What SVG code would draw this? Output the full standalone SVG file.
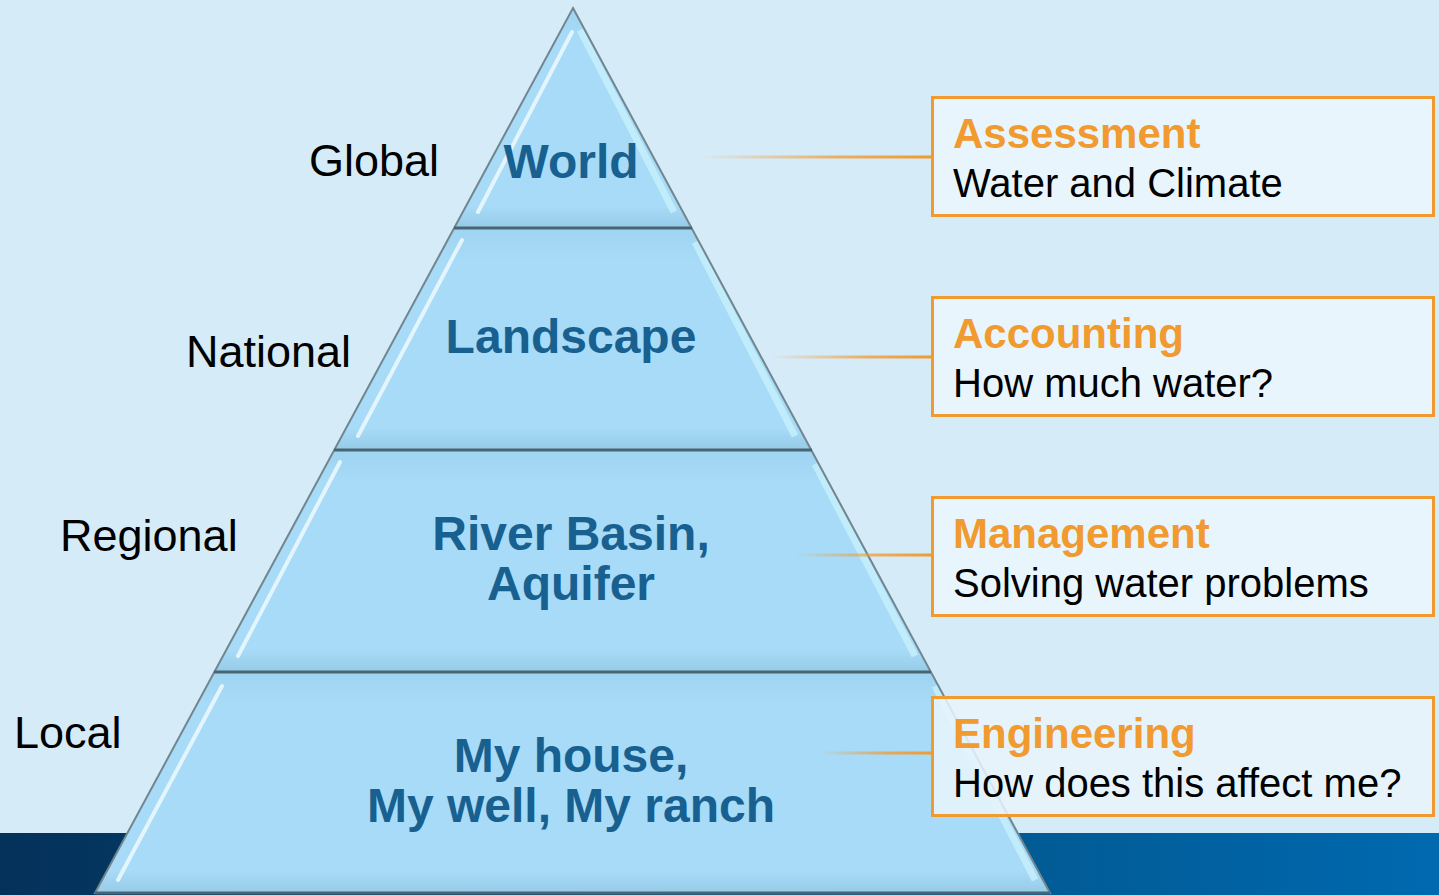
<svg xmlns="http://www.w3.org/2000/svg" width="1439" height="895" viewBox="0 0 1439 895">
<defs>
<linearGradient id="band" x1="0" y1="0" x2="1" y2="0">
<stop offset="0" stop-color="#04315a"/>
<stop offset="0.5" stop-color="#03507f"/>
<stop offset="1" stop-color="#0069b0"/>
</linearGradient>
<linearGradient id="fade" x1="0" y1="0" x2="1" y2="0">
<stop offset="0" stop-color="#f09a30" stop-opacity="0"/>
<stop offset="0.6" stop-color="#f09a30" stop-opacity="0.75"/>
<stop offset="1" stop-color="#f09a30" stop-opacity="1"/>
</linearGradient>
<linearGradient id="tierfill" x1="0" y1="0" x2="0" y2="1">
<stop offset="0" stop-color="#9fd4f2"/>
<stop offset="0.15" stop-color="#a7dbf7"/>
<stop offset="0.9" stop-color="#a7dbf7"/>
<stop offset="1" stop-color="#96cbe8"/>
</linearGradient>
<style>
.tier{fill:url(#tierfill);stroke:none}
.hl{stroke:#f2fbff;stroke-width:4;stroke-linecap:round;opacity:0.8;fill:none}
.hr{stroke:#c8f0fb;stroke-width:7;opacity:0.8;fill:none}
.div{stroke:#4b6472;stroke-width:3}
.edge{stroke:#71868f;stroke-width:2;fill:none}
.lvl{font-family:"Liberation Sans",Arial,sans-serif;font-size:45px;fill:#000}
.pt{font-family:"Liberation Sans",Arial,sans-serif;font-size:48px;font-weight:bold;fill:#18608f;text-anchor:middle}
.box{fill:#e9f5fc;stroke:#f09a30;stroke-width:3}
.bt{font-family:"Liberation Sans",Arial,sans-serif;font-size:42px;font-weight:bold;fill:#f09a30}
.bs{font-family:"Liberation Sans",Arial,sans-serif;font-size:40px;fill:#000}
.conn{fill:url(#fade);stroke:none}
</style>
</defs>
<rect x="0" y="0" width="1439" height="895" fill="#d6ebf8"/>
<rect x="0" y="833" width="1439" height="62" fill="url(#band)"/>

<g id="pyramid">
<g id="tier-world">
<polygon class="tier" points="573,8 454,228 692,228"/>
<polyline class="hl" points="572,32 478,212"/>
<polyline class="hr" points="580,30 674,212"/>
<text class="pt" x="571" y="178">World</text>
</g>
<g id="tier-landscape">
<polygon class="tier" points="454,228 692,228 812,450 334,450"/>
<polyline class="hl" points="462,240 358,436"/>
<polyline class="hr" points="695,242 795,436"/>
<text class="pt" x="571" y="353">Landscape</text>
</g>
<g id="tier-regional">
<polygon class="tier" points="334,450 812,450 931,672 214,672"/>
<polyline class="hl" points="340,462 238,656"/>
<polyline class="hr" points="815,464 915,656"/>
<text class="pt" x="571" y="550">River Basin,</text>
<text class="pt" x="571" y="600">Aquifer</text>
</g>
<g id="tier-local">
<polygon class="tier" points="214,672 931,672 1050,893 95,893"/>
<polyline class="hl" points="222,686 118,880"/>
<polyline class="hr" points="935,686 1035,880"/>
<text class="pt" x="571" y="772">My house,</text>
<text class="pt" x="571" y="822">My well, My ranch</text>
</g>
<polygon class="edge" points="573,8 1050,893 95,893"/>
<line class="div" x1="454" y1="228" x2="692" y2="228"/>
<line class="div" x1="334" y1="450" x2="812" y2="450"/>
<line class="div" x1="214" y1="672" x2="931" y2="672"/>
<line class="div" x1="95" y1="893" x2="1050" y2="893"/>
</g>

<g id="levels">
<text class="lvl" x="309" y="176">Global</text>
<text class="lvl" x="186" y="367">National</text>
<text class="lvl" x="60" y="551">Regional</text>
<text class="lvl" x="14" y="748">Local</text>
</g>

<g id="connectors">
<rect class="conn" x="700" y="155.5" width="232" height="3"/>
<rect class="conn" x="770" y="355.5" width="162" height="3"/>
<rect class="conn" x="795" y="553.5" width="137" height="3"/>
<rect class="conn" x="820" y="751.5" width="112" height="3"/>
</g>

<g id="box-assessment">
<rect class="box" x="932.5" y="97.5" width="501" height="118"/>
<text class="bt" x="953" y="148">Assessment</text>
<text class="bs" x="953" y="197">Water and Climate</text>
</g>
<g id="box-accounting">
<rect class="box" x="932.5" y="297.5" width="501" height="118"/>
<text class="bt" x="953" y="348">Accounting</text>
<text class="bs" x="953" y="397">How much water?</text>
</g>
<g id="box-management">
<rect class="box" x="932.5" y="497.5" width="501" height="118"/>
<text class="bt" x="953" y="548">Management</text>
<text class="bs" x="953" y="597">Solving water problems</text>
</g>
<g id="box-engineering">
<rect class="box" x="932.5" y="697.5" width="501" height="118" fill-opacity="0.85"/>
<text class="bt" x="953" y="748">Engineering</text>
<text class="bs" x="953" y="797">How does this affect me?</text>
</g>
</svg>
